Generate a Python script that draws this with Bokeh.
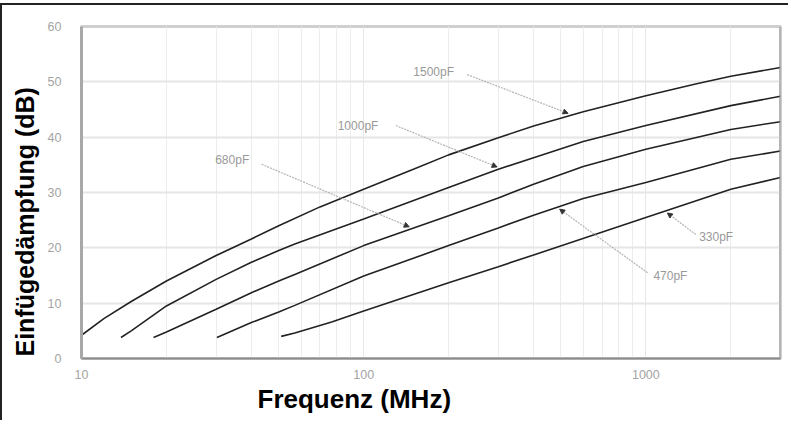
import numpy as np
from bokeh.plotting import figure
from bokeh.models import (FixedTicker, PrintfTickFormatter, Title, Arrow, NormalHead,
                          Range1d, ColumnDataSource, Span)
from bokeh.embed import file_html
from bokeh.resources import INLINE
from bokeh.core.properties import value

# ---- data (frequency in MHz, insertion loss in dB) ----
f_1500 = [10, 12, 15, 20, 30, 40, 50, 70, 100, 150, 200, 300, 400, 600, 1000, 1500, 2000, 3000]
a_1500 = [4.2, 7.2, 10.3, 14.0, 18.6, 21.6, 24.0, 27.4, 30.6, 34.2, 36.8, 39.9, 42.0, 44.6, 47.5, 49.6, 51.0, 52.6]

f_1000 = [13.8, 15, 20, 30, 40, 50, 57, 100, 200, 300, 400, 600, 1000, 2000, 3000]
a_1000 = [3.8, 5.0, 9.5, 14.3, 17.4, 19.5, 20.7, 25.2, 30.9, 34.2, 36.3, 39.2, 42.1, 45.7, 47.4]

f_680 = [18, 20, 30, 40, 50, 57, 100, 200, 300, 400, 600, 1000, 2000, 3000]
a_680 = [3.8, 4.8, 8.9, 11.9, 14.0, 15.2, 20.4, 25.8, 29.0, 31.5, 34.7, 37.8, 41.4, 42.8]

f_470 = [30.2, 40, 50, 57, 100, 200, 300, 400, 600, 1000, 2000, 3000]
a_470 = [3.8, 6.5, 8.4, 9.6, 14.9, 20.4, 23.6, 25.9, 28.9, 31.8, 36.0, 37.5]

f_330 = [51, 57, 77, 100, 200, 300, 400, 1000, 2000, 3000]
a_330 = [4.0, 4.6, 6.6, 8.6, 13.7, 16.6, 18.7, 25.5, 30.6, 32.7]

# annotation labels
labels = ["1500pF", "1000pF", "680pF", "470pF", "330pF"]
label_f = [177, 95.5, 34.2, 1222, 1775]
label_v = [51.7, 42.1, 35.8, 15.0, 22.0]
lead_f0 = [233, 130, 43.5, 1014, 1503]
lead_v0 = [51.3, 42.1, 35.1, 15.5, 22.4]
tip_f = [530, 297, 145, 495, 1192]
tip_side = [1, 1, 1, -1, -1]

x_major = [10, 100, 1000]
x_minor = [20, 30, 40, 50, 60, 70, 80, 90, 200, 300, 400, 500, 600, 700, 800, 900, 2000, 3000]
y_ticks = [0, 10, 20, 30, 40, 50, 60]

curves = [(f_1500, a_1500), (f_1000, a_1000), (f_680, a_680), (f_470, a_470), (f_330, a_330)]

p = figure(width=788, height=417, x_axis_type="log",
           x_range=Range1d(10, 3000), y_range=Range1d(0, 60),
           output_backend="svg", toolbar_location=None,
           min_border_left=79, min_border_right=10, min_border_top=21, min_border_bottom=64)
p.styles = {"border-top": "2px solid #222", "border-left": "2px solid #222", "margin-top": "3px"}

p.outline_line_color = "#cfcfcf"
p.outline_line_width = 3

p.xaxis.ticker = FixedTicker(ticks=x_major, minor_ticks=x_minor)
p.xaxis.formatter = PrintfTickFormatter(format="%d")
p.yaxis.ticker = FixedTicker(ticks=y_ticks)
p.ygrid.ticker = FixedTicker(ticks=y_ticks)
p.xgrid.ticker = FixedTicker(ticks=x_major, minor_ticks=x_minor)

for ax in (p.xaxis, p.yaxis):
    ax.major_tick_line_color = None
    ax.minor_tick_line_color = None
    ax.major_label_text_font = "Liberation Sans"
    ax.major_label_text_font_size = "12.5px"
    ax.major_label_text_color = "#a4a4a4"
p.xaxis.axis_line_color = "#8c8c8c"
p.xaxis.axis_line_width = 2
p.yaxis.axis_line_color = "#a8a8a8"
p.yaxis.axis_line_width = 3
p.xaxis.major_label_standoff = 5
p.yaxis.major_label_standoff = 14

p.xgrid.grid_line_color = "#e8e8e8"
p.xgrid.minor_grid_line_color = "#ececec"
p.ygrid.grid_line_color = "#e6e6e6"
p.ygrid.grid_line_width = 2

p.add_layout(Span(location=3000, dimension="height", line_color="#9a9a9a", line_width=2))

for fx, ay in curves:
    p.line(fx, ay, line_color="#222222", line_width=1.6)

# leader lines with arrowheads
tip_v = []
for (fx, ay), tf, sd in zip(curves, tip_f, tip_side):
    tip_v.append(float(np.interp(np.log10(tf), np.log10(fx), ay)) + 0.5 * sd)
src = ColumnDataSource(dict(x0=lead_f0, y0=lead_v0, x1=tip_f, y1=tip_v))
p.add_layout(Arrow(end=NormalHead(size=5, fill_color="#333333", line_color="#333333"),
                   x_start="x0", y_start="y0", x_end="x1", y_end="y1", source=src,
                   line_color="#b4b4b4", line_width=1.2, line_dash="2 1"))

p.text(x=label_f, y=label_v, text=labels, text_font=value("Liberation Sans"),
       text_font_size="12px", text_color="#999999", text_align="center", text_baseline="middle")

# axis titles
xt = Title(text="Frequenz (MHz)", align="left", offset=176, standoff=0,
           text_font="Liberation Sans", text_font_style="bold", text_font_size="26px",
           text_color="#000000")
yt = Title(text="Einfügedämpfung (dB)", align="left", offset=2, standoff=11,
           text_font="Liberation Sans", text_font_style="bold", text_font_size="25px",
           text_color="#000000")
p.add_layout(xt, "below")
p.add_layout(yt, "left")

open("out.html", "w").write(file_html(p, INLINE))
